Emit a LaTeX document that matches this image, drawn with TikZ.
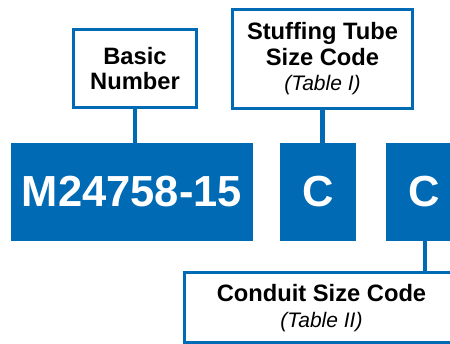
\documentclass[tikz,border=0pt]{standalone}
\usepackage{fontspec}
\setmainfont{Liberation Sans}
\usetikzlibrary{positioning}
\definecolor{codeblue}{RGB}{0,106,180}

\begin{document}
\begin{tikzpicture}[x=1pt,y=1pt,
        codebox/.style={fill=codeblue, text=white, inner sep=0pt,
            font=\bfseries\fontsize{43.5}{46}\selectfont},
        labelbox/.style={draw=codeblue, line width=3pt, fill=white,
            align=center, inner sep=0pt,
            font=\bfseries\fontsize{23.7}{25.5}\selectfont},
        link/.style={draw=codeblue, line width=4.5pt}]
        \clip (0,0) rectangle (450,344);

        \node[codebox, minimum width=242, minimum height=98] (basic) at (132,152) {M24758-15};
        \node[codebox, minimum width=76, minimum height=98] (tube) at (318,152) {C};
        \node[codebox, minimum width=76, minimum height=98] (conduit) at (424,152) {C};

        \node[labelbox, minimum width=123, minimum height=78] (basiclbl) at (135,275.5) {Basic\\Number};
        \node[labelbox, minimum width=180, minimum height=99] (tubelbl) at (322.5,285) {
            Stuffing Tube\\Size Code\\
            {\mdseries\itshape\fontsize{21}{25}\selectfont (Table I)}
        };
        \node[labelbox, minimum width=274, minimum height=70] (conduitlbl) at (321.5,36) {
            Conduit Size Code\\
            {\mdseries\itshape\fontsize{21}{25}\selectfont (Table II)}
        };

        \draw[link] (basiclbl) -- (basiclbl |- basic.north);
        \draw[link] (tubelbl) -- (tubelbl |- tube.north);
        \draw[link] ([xshift=1pt]conduit.south) -- ([xshift=1pt]conduit.south |- conduitlbl.north);

    \end{tikzpicture}
\end{document}
